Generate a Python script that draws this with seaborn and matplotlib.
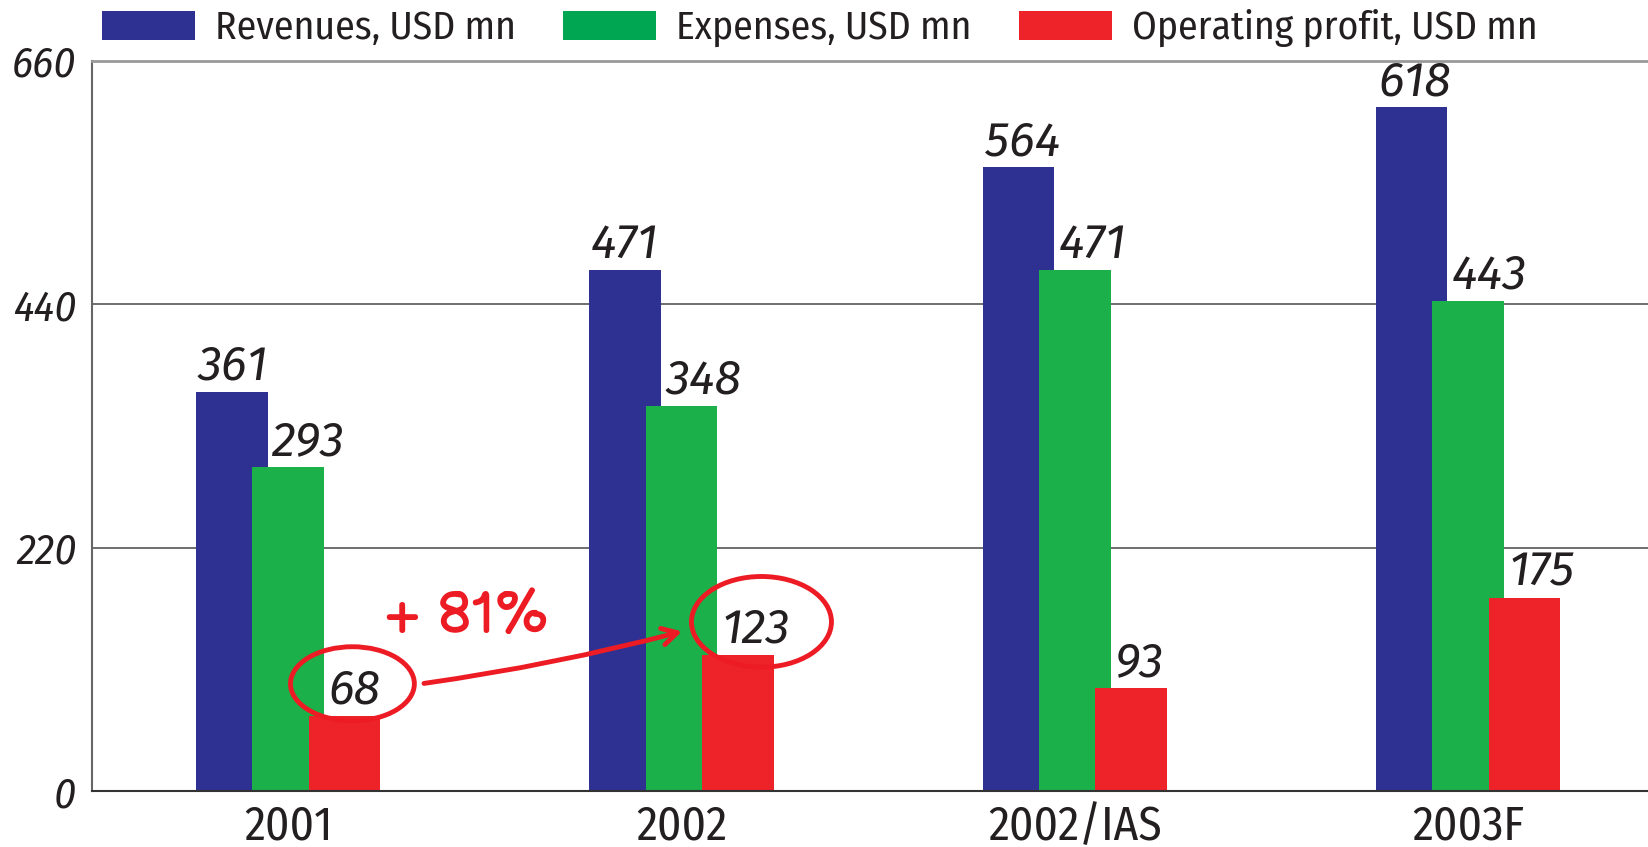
import matplotlib
matplotlib.use("Agg")
import numpy as np
import pandas as pd
import matplotlib.pyplot as plt
from matplotlib.patches import Ellipse
import seaborn as sns

# chart data
periods = ["2001", "2002", "2002/IAS", "2003F"]
revenues = [361, 471, 564, 618]
expenses = [293, 348, 471, 443]
op_profit = [68, 123, 93, 175]
series_names = ["Revenues, USD mn", "Expenses, USD mn", "Operating profit, USD mn"]
y_ticks = [0, 220, 440, 660]

BLUE = "#2E3192"
GREEN = "#1CB04B"
RED = "#EE2229"
FONT = ["Fira Sans Condensed", "DejaVu Sans"]
LABEL_FONT = ["Fira Sans", "DejaVu Sans"]

df = pd.DataFrame({
    "period": periods * 3,
    "series": [series_names[0]] * 4 + [series_names[1]] * 4 + [series_names[2]] * 4,
    "value": revenues + expenses + op_profit,
})

sns.set_theme(style="white")
plt.rcParams["font.family"] = FONT

fig = plt.figure(figsize=(16.49, 8.47), dpi=100)
ax = fig.add_axes([0.0555, 0.066, 0.9445, 0.862])

sns.barplot(data=df, x="period", y="value", hue="series", order=periods,
            hue_order=series_names, palette=[BLUE, GREEN, RED],
            width=0.43, dodge=True, saturation=1, errorbar=None, ax=ax)

# bars in the original overlap each other: widen them around their centers
bar_w = 0.182
bars = [p for p in ax.patches if p.get_height() > 0]
for p in bars:
    cx = p.get_x() + p.get_width() / 2
    p.set_width(bar_w)
    p.set_x(cx - bar_w / 2)
    p.set_linewidth(0)

# value labels
n = len(periods)
for i, p in enumerate(bars):
    shift = 0.005 if i < n else 0.05
    ax.text(p.get_x() + shift, p.get_height() + 11, f"{int(p.get_height())}",
            ha="left", va="baseline", fontsize=35, style="italic",
            color="#231F20", family=LABEL_FONT)

ax.set_ylim(0, 660)
ax.set_xlim(-0.5, 3.46)
ax.set_yticks(y_ticks)
ax.set_yticklabels([str(t) for t in y_ticks], fontsize=31, style="italic",
                   color="#231F20")
ax.set_xticks(range(n))
ax.set_xticklabels(periods, fontsize=34, color="#231F20")
ax.set_xticks(np.arange(n) - 0.5, minor=True)
ax.tick_params(axis="x", which="major", length=0, pad=9)
ax.tick_params(axis="x", which="minor", length=6, width=1, color="#333333",
               direction="out")
ax.tick_params(axis="y", length=7, width=1, color="#555555", direction="out",
               pad=4)
ax.set_xlabel("")
ax.set_ylabel("")

ax.yaxis.grid(True, color="#555555", linewidth=1.2)
ax.set_axisbelow(True)
ax.spines["right"].set_visible(False)
ax.spines["top"].set_color("#999999")
ax.spines["top"].set_linewidth(2)
ax.spines["left"].set_color("#666666")
ax.spines["left"].set_linewidth(1.5)
ax.spines["bottom"].set_color("#333333")
ax.spines["bottom"].set_linewidth(1.5)

# legend at the top of the figure
handles, labels = ax.get_legend_handles_labels()
ax.legend_.remove()
leg = fig.legend(handles, labels, loc="upper center", bbox_to_anchor=(0.497, 1.022),
                 ncol=3, frameon=False, fontsize=28.5, handlelength=2.35,
                 handleheight=0.76, handletextpad=0.5, columnspacing=1.2,
                 borderpad=0.2)
for h in leg.legend_handles:
    h.set_linewidth(0)
leg.legend_handles[1].set_facecolor("#00A651")
for t in leg.get_texts():
    t.set_color("#231F20")

# hand-drawn style highlight: +81% growth of operating profit 2001 -> 2002
red_bars = bars[2 * n:]
p0, p1 = red_bars[0], red_bars[1]
c0 = (p0.get_x() + p0.get_width() / 2 + 0.02, p0.get_height() + 29)
c1 = (p1.get_x() + p1.get_width() / 2 + 0.06, p1.get_height() + 30)
ax.add_patch(Ellipse(c0, 0.315, 67, fill=False, edgecolor="#ED1C24", lw=3.5))
ax.add_patch(Ellipse(c1, 0.356, 82, fill=False, edgecolor="#ED1C24", lw=3.5))
ax.annotate("", xy=(c1[0] - 0.195, c1[1] - 8), xytext=(c0[0] + 0.175, c0[1]),
            arrowprops=dict(arrowstyle="->,head_length=0.9,head_width=0.5",
                            color="#ED1C24", lw=3.5,
                            connectionstyle="arc3,rad=0.03"))
growth = (op_profit[1] / op_profit[0] - 1) * 100
ax.text((c0[0] + c1[0]) / 2 - 0.23, c1[1] + 3, f"+ {growth:.0f}%",
        ha="center", va="center", fontsize=42, color="#ED1C24",
        family=["Balsamiq Sans", "DejaVu Sans"])

fig.savefig("out.png", dpi=100)
